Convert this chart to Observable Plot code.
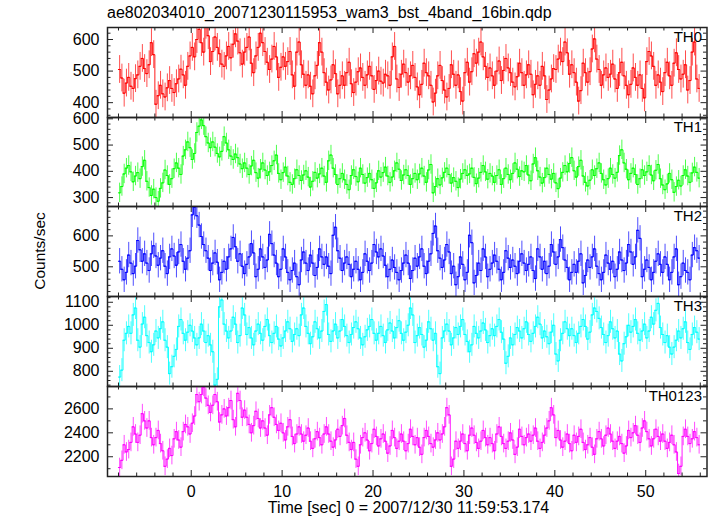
<!DOCTYPE html>
<html><head><meta charset="utf-8">
<script src="https://cdn.jsdelivr.net/npm/d3@7"></script>
<script src="https://cdn.jsdelivr.net/npm/@observablehq/plot@0.6"></script>
<style>
body{margin:0;background:#fff;}
#root{position:relative;width:717px;height:516px;font-family:"Liberation Sans",Arial,Helvetica,sans-serif;overflow:hidden;background:#fff}
.abs{position:absolute;white-space:nowrap;color:#000;line-height:1}
</style></head><body><div id="root"></div>
<script>
const titleText = "ae802034010_20071230115953_wam3_bst_4band_16bin.qdp";
const xLabelText = "Time [sec] 0 = 2007/12/30 11:59:53.174";
const yLabelText = "Counts/sec";
const bands = ["TH0", "TH1", "TH2", "TH3", "TH0123"];
const colors = ["#ff0000", "#00ff00", "#0000ff", "#00ffff", "#ff00ff"];
const binStart = -7.875, binWidth = 0.25;
const errHalf = [44, 37, 41, 50, 78];

const th0 = [505,478,430,462,480,452,445,476,488,515,540,508,492,520,590,552,
 395,422,455,428,418,447,470,445,432,460,475,506,488,455,515,548,
 575,545,600,632,590,560,645,612,530,562,608,575,555,522,515,548,
 578,542,585,618,595,558,522,560,575,608,525,495,548,575,620,590,
 562,528,505,538,578,545,480,512,545,515,530,562,488,452,560,592,
 520,490,455,488,452,428,485,518,590,560,495,465,440,472,520,492,
 428,455,485,455,495,528,460,432,465,498,510,480,455,488,515,485,
 442,470,500,468,462,490,485,455,545,578,475,448,490,522,495,465,
 485,518,480,450,425,458,525,495,485,455,402,430,485,518,470,440,
 418,445,520,490,455,488,435,405,495,528,465,498,555,525,560,592,
 545,515,480,510,485,455,500,532,470,502,540,510,495,465,450,482,
 525,495,455,488,520,490,425,458,485,455,515,485,410,440,475,508,
 505,538,560,530,592,558,490,520,495,465,405,438,525,495,465,498,
 570,602,538,505,455,488,510,480,490,522,475,445,495,528,485,455,
 425,458,510,480,455,488,445,415,530,562,548,515,455,488,465,435,
 495,528,485,455,525,558,505,475,490,520,440,470,560,592,475,445];
const th1 = [318,342,390,412,422,398,360,382,395,372,418,442,362,338,308,332,
 300,286,335,356,405,384,350,372,410,432,412,388,458,482,512,490,
 445,468,548,572,596,574,532,508,490,512,492,468,455,476,532,508,
 482,458,445,466,452,428,410,432,412,388,420,442,395,374,408,432,
 405,384,398,422,440,462,392,368,395,416,382,358,350,372,406,384,
 365,386,402,378,340,362,396,374,390,412,382,358,440,462,412,388,
 350,372,392,368,350,330,384,406,380,360,412,388,355,376,392,368,
 335,356,402,378,395,416,382,358,378,402,432,408,365,386,406,384,
 350,372,392,368,390,412,382,358,405,426,318,342,372,348,375,396,
 412,388,355,376,362,338,370,392,406,384,390,412,377,353,374,396,
 422,398,370,392,382,358,384,406,350,372,412,388,368,392,432,408,
 380,402,398,422,386,364,428,452,402,378,355,376,412,388,370,392,
 356,334,374,396,422,398,430,452,402,378,418,442,382,358,344,366,
 406,384,410,432,392,368,348,372,412,388,374,396,460,482,432,408,
 368,392,412,388,350,372,406,384,398,422,386,364,404,426,372,348,
 330,352,392,368,320,342,366,344,384,406,382,358,394,416,396,374];
const th2 = [518,492,458,482,538,512,478,502,585,555,518,542,512,488,542,568,
 535,505,528,552,502,478,532,558,535,505,548,572,518,492,528,552,
 668,692,665,635,598,572,552,528,488,512,545,515,458,482,518,492,
 532,558,595,565,518,542,502,478,508,532,575,545,468,492,558,532,
 498,522,605,575,538,512,468,492,558,532,482,458,488,512,468,442,
 522,548,512,488,538,512,472,498,558,532,508,532,502,478,602,628,
 552,528,488,512,532,508,468,492,518,492,458,482,542,518,488,512,
 572,548,532,558,535,505,468,492,522,498,482,458,488,512,538,512,
 462,488,528,502,532,558,502,478,518,542,608,632,552,528,498,522,
 572,548,478,502,442,468,532,508,458,482,602,578,448,472,512,488,
 558,532,468,492,512,538,518,492,458,482,552,528,498,522,502,478,
 518,542,512,488,508,532,488,462,558,532,492,518,478,502,572,548,
 508,532,588,562,522,498,458,482,508,482,518,542,448,472,522,498,
 532,558,502,478,458,482,538,512,492,518,468,492,548,522,488,512,
 572,548,508,532,618,592,468,492,522,498,458,482,518,542,508,482,
 532,508,458,482,532,558,442,468,512,488,482,458,538,562,552,528];
const th3 = [775,805,935,965,995,965,1045,1075,935,905,1005,1035,955,925,885,915,
 975,945,985,1015,935,905,790,820,865,895,995,1025,965,935,970,1000,
 975,945,915,945,1005,975,925,955,915,885,740,765,1080,1110,1005,975,
 945,975,1035,1005,925,955,1075,1045,960,990,945,915,975,1005,965,935,
 995,1025,955,925,965,995,940,910,945,975,1015,985,930,960,985,955,
 1045,1075,995,965,920,950,1015,985,945,975,1060,1090,960,930,975,1005,
 945,975,1025,995,955,925,960,990,1015,985,945,915,950,980,995,1025,
 965,935,965,995,955,925,980,1010,975,945,990,1020,965,935,970,1000,
 1075,1045,925,955,990,960,905,935,1015,985,935,965,820,790,945,975,
 1005,975,915,945,990,960,995,1025,960,930,885,915,995,965,945,975,
 1010,980,925,955,985,955,995,1025,970,940,835,865,945,915,960,990,
 975,945,985,1015,960,930,965,995,1035,1005,945,975,950,920,970,1000,
 875,845,935,965,1015,985,955,985,955,925,965,995,1025,995,940,970,
 1045,1075,1060,1030,990,960,925,955,1015,985,945,975,875,845,920,950,
 1000,970,995,1025,965,935,975,1005,945,975,1035,1005,1065,1095,990,960,
 925,955,905,875,905,935,975,945,985,1015,925,895,960,990,970,940];
const th0123 = [2110,2170,2300,2240,2260,2320,2450,2390,2320,2380,2560,2500,2440,2500,2360,2300,
 2360,2420,2310,2250,2120,2180,2270,2210,2350,2410,2340,2280,2410,2470,2450,2390,
 2480,2540,2720,2660,2720,2780,2690,2630,2570,2630,2720,2660,2490,2550,2600,2540,
 2610,2670,2510,2450,2730,2670,2530,2590,2530,2470,2400,2460,2580,2520,2440,2500,
 2440,2380,2550,2610,2530,2470,2420,2480,2400,2340,2450,2510,2370,2310,2390,2450,
 2390,2330,2380,2440,2330,2270,2350,2410,2360,2300,2390,2450,2390,2330,2280,2340,
 2430,2370,2460,2520,2380,2320,2260,2320,2180,2120,2300,2360,2400,2340,2250,2310,
 2430,2370,2290,2350,2390,2330,2230,2290,2420,2360,2270,2330,2390,2330,2250,2310,
 2430,2370,2300,2360,2280,2220,2360,2420,2370,2310,2280,2340,2400,2340,2390,2450,
 2610,2550,2120,2180,2330,2270,2330,2390,2310,2250,2380,2440,2380,2320,2270,2330,
 2420,2360,2300,2360,2310,2250,2390,2450,2370,2310,2270,2330,2400,2340,2220,2280,
 2430,2370,2300,2360,2390,2330,2380,2440,2330,2270,2320,2380,2440,2500,2610,2550,
 2360,2420,2340,2280,2330,2390,2310,2250,2380,2320,2370,2430,2320,2260,2300,2360,
 2280,2220,2350,2410,2350,2290,2380,2440,2390,2330,2270,2330,2370,2310,2230,2290,
 2420,2360,2400,2460,2380,2320,2440,2500,2410,2350,2290,2350,2430,2370,2330,2390,
 2330,2270,2320,2380,2300,2240,2060,2120,2370,2430,2370,2310,2350,2410,2360,2300];

const series = [th0, th1, th2, th3, th0123];
const yDomains = [[353, 638], [266, 605], [404, 695], [734, 1125], [2035, 2787]];
const yTickLabels = [[400, 500, 600], [300, 400, 500, 600], [500, 600], [800, 900, 1000, 1100], [2200, 2400, 2600]];
const yMinorSteps = [20, 20, 20, 20, 100];
const xDomain = [-9.21, 56.74];
const xTickLabels = [0, 10, 20, 30, 40, 50];
const xMinorStep = 2;

const root = document.getElementById("root");
const W = 717, ML = 107, MR = 10.5;
const plotW = W - ML - MR;
const tops = [27, 117, 206, 296, 386], bottoms = [117, 206, 296, 386, 476];
const FONT = '"Liberation Sans", Arial, Helvetica, sans-serif';
const axisColor = "#222";

const xMinor = d3.range(-8, 57, xMinorStep).filter(d => d >= xDomain[0] && d <= xDomain[1] && !xTickLabels.includes(d));

series.forEach((vals, k) => {
  const h = bottoms[k] - tops[k];
  const last = k === series.length - 1;
  const mt = 1, mb = last ? 40 : 1;
  const data = vals.map((v, i) => ({t: binStart + i * binWidth, v, e: errHalf[k]}));
  const [y0, y1] = yDomains[k];
  const step = yMinorSteps[k];
  const yMajor = yTickLabels[k];
  const yMinor = d3.range(Math.ceil(y0 / step) * step, y1, step).filter(d => !yMajor.includes(d));
  const maj = 6, min = 3.5;
  const tickStyle = {stroke: axisColor, strokeWidth: 1};
  const marks = [
    Plot.ruleX(data, {x: "t", y1: d => d.v - d.e, y2: d => d.v + d.e, stroke: colors[k], strokeWidth: 1, strokeOpacity: 0.7, clip: true}),
    Plot.ruleY(data, {y: "v", x1: d => d.t - binWidth / 2, x2: d => d.t + binWidth / 2, stroke: colors[k], strokeWidth: 1, clip: true}),
    Plot.line(data, {x: "t", y: "v", curve: "step", stroke: colors[k], strokeWidth: 1, strokeOpacity: 0.9, clip: true}),
    // x ticks top & bottom
    Plot.ruleX(xTickLabels, {...tickStyle, insetBottom: h - maj}),
    Plot.ruleX(xMinor, {...tickStyle, insetBottom: h - min}),
    Plot.ruleX(xTickLabels, {...tickStyle, insetTop: h - maj}),
    Plot.ruleX(xMinor, {...tickStyle, insetTop: h - min}),
    // y ticks left & right
    Plot.ruleY(yMajor, {...tickStyle, insetRight: plotW - maj}),
    Plot.ruleY(yMinor, {...tickStyle, insetRight: plotW - min}),
    Plot.ruleY(yMajor, {...tickStyle, insetLeft: plotW - maj}),
    Plot.ruleY(yMinor, {...tickStyle, insetLeft: plotW - min}),
    Plot.frame({stroke: axisColor, strokeWidth: 1.5}),
    Plot.text(yMajor, {y: d => d, text: d => String(d), frameAnchor: "left", dx: -8, textAnchor: "end", fontSize: 16, fill: "black"}),
    Plot.text([bands[k]], {text: d => d, frameAnchor: "top-right", dx: -5, dy: 10, textAnchor: "end", lineAnchor: "middle", fontSize: 15, fill: "black"})
  ];
  if (last) {
    marks.push(Plot.text(xTickLabels, {x: d => d, text: d => String(d), frameAnchor: "bottom", dy: 15, lineAnchor: "middle", fontSize: 16, fill: "black"}));
  }
  const svg = Plot.plot({
    width: W, height: h + mt + mb,
    marginLeft: ML, marginRight: MR, marginTop: mt, marginBottom: mb,
    x: {domain: xDomain, axis: null},
    y: {domain: yDomains[k], axis: null},
    style: {background: "transparent", overflow: "visible", fontFamily: FONT, fontSize: "16px", color: "black"},
    marks
  });
  svg.style.position = "absolute";
  svg.style.left = "0px";
  svg.style.top = (tops[k] - mt) + "px";
  root.appendChild(svg);
});

function addText(txt, css) {
  const d = document.createElement("div");
  d.className = "abs";
  d.textContent = txt;
  Object.assign(d.style, css);
  root.appendChild(d);
}
addText(titleText, {left: "107px", top: "13px", fontSize: "16px", transform: "translateY(-50%)"});
addText(xLabelText, {left: "408.5px", top: "508px", fontSize: "16px", transform: "translate(-50%,-50%)"});
addText(yLabelText, {left: "40px", top: "251px", fontSize: "15.5px", transform: "translate(-50%,-50%) rotate(-90deg)"});
</script>
</body></html>
